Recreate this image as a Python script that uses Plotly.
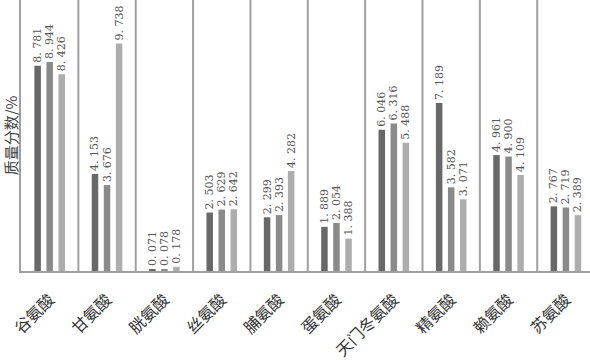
import plotly.graph_objects as go

categories = ["谷氨酸", "甘氨酸", "胱氨酸", "丝氨酸", "脯氨酸", "蛋氨酸", "天门冬氨酸", "精氨酸", "赖氨酸", "苏氨酸"]
series1 = [8.781, 4.153, 0.071, 2.503, 2.299, 1.889, 6.046, 7.189, 4.961, 2.767]
series2 = [8.944, 3.676, 0.078, 2.629, 2.393, 2.054, 6.316, 3.582, 4.900, 2.719]
series3 = [8.426, 9.738, 0.178, 2.642, 4.282, 1.388, 5.488, 3.071, 4.109, 2.389]
colors = ["#686868", "#8a8a8a", "#adadad"]

def fmt(v):
    s = f"{v:.3f}"
    a, b = s.split(".")
    return f"{a}. {b}"

fig = go.Figure()
for vals, c in zip([series1, series2, series3], colors):
    fig.add_trace(go.Bar(
        x=categories, y=vals, marker=dict(color=c, line=dict(width=0)),
        text=[fmt(v) for v in vals], textposition="outside", textangle=-90,
        constraintext="none", cliponaxis=False,
        textfont=dict(family="DejaVu Serif, Noto Sans CJK SC", size=11, color="#555555"),
        showlegend=False,
    ))

n = len(categories)
for i in range(n):
    fig.add_shape(type="line", xref="x", yref="paper", x0=i + 0.5, x1=i + 0.5,
                  y0=0, y1=1, line=dict(color="#a0a0a0", width=2), layer="below")

fig.update_layout(
    width=590, height=360,
    margin=dict(l=21, r=0, t=0, b=89),
    plot_bgcolor="white", paper_bgcolor="white",
    barmode="group", bargap=0.37, bargroupgap=0.46,
    font=dict(family="Noto Sans CJK SC", color="#333333"),
    xaxis=dict(range=[-0.5, 9.42], tickangle=-45, showline=True, linecolor="#a0a0a0",
               linewidth=2, ticks="", tickfont=dict(size=16, color="#333333"),
               ticklabelstandoff=11, showgrid=False, mirror=False, automargin=False),
    yaxis=dict(range=[0, 11.6], showticklabels=False, showgrid=False, zeroline=False,
               showline=True, linecolor="#a0a0a0", linewidth=2, ticks="", automargin=False,
               title=dict(text="质量分数/%", font=dict(size=15, color="#444444"), standoff=2)),
)

fig.write_html("out.html")
